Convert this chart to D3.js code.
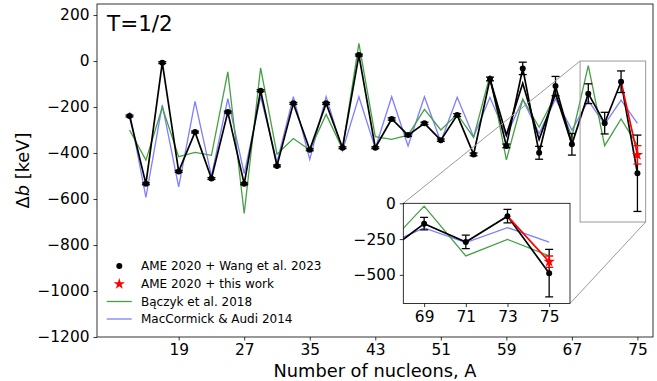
<!DOCTYPE html>
<html>
<head>
<meta charset="utf-8">
<script src="https://cdn.jsdelivr.net/npm/d3@7"></script>
<style>
  body { margin: 0; background: #fff; }
  text { font-family: "DejaVu Sans", sans-serif; fill: #000; }
</style>
</head>
<body>
<div id="chart"></div>
<script>
// mass numbers of the T=1/2 mirror pairs
const massA = [13, 15, 17, 19, 21, 23, 25, 27, 29, 31, 33, 35, 37, 39, 41, 43,
               45, 47, 49, 51, 53, 55, 57, 59, 61, 63, 65, 67, 69, 71, 73, 75];

// AME 2020 + Wang et al. 2023 (keV)
const wangVal = [-239, -534, -7, -480, -309, -511, -222, -534, -129, -456, -184, -386, -184, -377, 26, -377,
                 -252, -322, -271, -344, -235, -406, -78, -369, -32, -399, -109, -362, -142, -270, -90, -488];
const wangErr = [4, 4, 4, 4, 4, 4, 4, 4, 4, 4, 4, 4, 4, 4, 4, 4,
                 5, 5, 5, 5, 6, 6, 8, 8, 27, 28, 42, 47, 43, 47, 47, 166];

// second AME line drawn without markers in the A = 57..67 range
const ameA = [57, 59, 61, 63, 65, 67];
const ameVal = [-78, -322, -97, -341, -141, -362];

// AME 2020 + this work
const thisA = [73, 75];
const thisVal = [-90, -408];
const thisErr = 40;

// Bączyk et al. 2018
const baczykVal = [-300, -431, -202, -416, -397, -410, -47, -663, -30, -405, -337, -387, -232, -383, 77, -329,
                   -341, -322, -210, -300, -231, -332, -61, -430, -166, -288, -148, -329, -20, -368, -252, -367];

// MacCormick & Audi 2014
const macVal = [-221, -593, -191, -547, -175, -500, -164, -490, -155, -440, -155, -428, -155, -390, -155, -380,
                -155, -369, -155, -351, -158, -329, -158, -326, -167, -315, -165, -300, -172, -275, -170, -271];

const xTicks = [19, 27, 35, 43, 51, 59, 67, 75];
const yTicks = [200, 0, -200, -400, -600, -800, -1000, -1200];
const insetXTicks = [69, 71, 73, 75];
const insetYTicks = [0, -250, -500];

const legendLabels = ["AME 2020 + Wang et al. 2023", "AME 2020 + this work", "Bączyk et al. 2018", "MacCormick & Audi 2014"];

const width = 657, height = 381;
const green = "#46a046", blue = "#7f7fff", red = "#ff0000";
const minus = s => String(s).replace("-", "\u2212");

const svg = d3.select("#chart").append("svg")
  .attr("width", width).attr("height", height);

// main axes
const x = d3.scaleLinear().domain([9.03, 76.9]).range([97, 653]);
const y = d3.scaleLinear().domain([-1200, 248]).range([337, 4]);

// inset axes
const xi = d3.scaleLinear().domain([68, 76]).range([403.3, 570]);
const yi = d3.scaleLinear().domain([-700, 0]).range([303.5, 203.3]);

function drawSeries(g, sx, sy) {
  const line = d3.line().x(d => sx(d[0])).y(d => sy(d[1]));

  g.append("path").datum(d3.zip(massA, macVal))
    .attr("d", line).attr("fill", "none").attr("stroke", blue).attr("stroke-width", 1.3);
  g.append("path").datum(d3.zip(massA, baczykVal))
    .attr("d", line).attr("fill", "none").attr("stroke", green).attr("stroke-width", 1.3);
  g.append("path").datum(d3.zip(ameA, ameVal))
    .attr("d", line).attr("fill", "none").attr("stroke", "#000").attr("stroke-width", 1.7);
  g.append("path").datum(d3.zip(massA, wangVal))
    .attr("d", line).attr("fill", "none").attr("stroke", "#000").attr("stroke-width", 1.7);
  g.append("path").datum(d3.zip(thisA, thisVal))
    .attr("d", line).attr("fill", "none").attr("stroke", red).attr("stroke-width", 1.7);

  // error bars
  const eb = g.append("g").selectAll("g").data(d3.zip(massA, wangVal, wangErr)).enter().append("g");
  eb.append("line")
    .attr("x1", d => sx(d[0])).attr("x2", d => sx(d[0]))
    .attr("y1", d => sy(d[1] + d[2])).attr("y2", d => sy(d[1] - d[2]))
    .attr("stroke", "#000").attr("stroke-width", 1.3);
  [1, -1].forEach(s => {
    eb.append("line")
      .attr("x1", d => sx(d[0]) - 4).attr("x2", d => sx(d[0]) + 4)
      .attr("y1", d => sy(d[1] + s * d[2])).attr("y2", d => sy(d[1] + s * d[2]))
      .attr("stroke", "#000").attr("stroke-width", 1.3);
  });
  eb.append("circle")
    .attr("cx", d => sx(d[0])).attr("cy", d => sy(d[1])).attr("r", 3)
    .attr("fill", "#000");

  // this work point
  const ax = sx(thisA[1]), av = thisVal[1];
  g.append("line").attr("x1", ax).attr("x2", ax)
    .attr("y1", sy(av + thisErr)).attr("y2", sy(av - thisErr))
    .attr("stroke", red).attr("stroke-width", 1.3);
  [1, -1].forEach(s => {
    g.append("line").attr("x1", ax - 4).attr("x2", ax + 4)
      .attr("y1", sy(av + s * thisErr)).attr("y2", sy(av + s * thisErr))
      .attr("stroke", red).attr("stroke-width", 1.3);
  });
  g.append("path").attr("d", d3.symbol(d3.symbolStar, 40)())
    .attr("transform", `translate(${ax},${sy(av)})`).attr("fill", red);
}

// ---- main plot ----
svg.append("defs").append("clipPath").attr("id", "clipMain")
  .append("rect").attr("x", 97).attr("y", 4).attr("width", 556).attr("height", 333);

const main = svg.append("g").attr("clip-path", "url(#clipMain)");
drawSeries(main, x, y);

svg.append("g").attr("transform", "translate(0,337)")
  .call(d3.axisBottom(x).tickValues(xTicks).tickSize(3.5).tickPadding(4))
  .call(g => g.select(".domain").remove())
  .call(g => g.selectAll("text").style("font-size", "15.4px").attr("font-family", null))
  .call(g => g.selectAll("line").attr("stroke-width", 0.8));

svg.append("g").attr("transform", "translate(97,0)")
  .call(d3.axisLeft(y).tickValues(yTicks).tickSize(3.5).tickPadding(4).tickFormat(minus))
  .call(g => g.select(".domain").remove())
  .call(g => g.selectAll("text").style("font-size", "15.4px").attr("font-family", null))
  .call(g => g.selectAll("line").attr("stroke-width", 0.8));

svg.append("rect").attr("x", 97).attr("y", 4).attr("width", 556).attr("height", 333)
  .attr("fill", "none").attr("stroke", "#000").attr("stroke-width", 0.8);

// title
svg.append("text").attr("x", 107).attr("y", 31).style("font-size", "21.5px").text("T=1/2");

// axis labels
svg.append("text").attr("x", 375).attr("y", 377).attr("text-anchor", "middle")
  .style("font-size", "17.8px").text("Number of nucleons, A");

const yl = svg.append("text").attr("transform", "translate(29,170.5) rotate(-90)")
  .attr("text-anchor", "middle").style("font-size", "17.8px");
yl.append("tspan").text("\u0394");
yl.append("tspan").attr("font-style", "italic").text("b");
yl.append("tspan").text(" [keV]");

// legend
const legY = [266, 284, 301.5, 319];
const leg = svg.append("g");
leg.append("circle").attr("cx", 119.3).attr("cy", legY[0]).attr("r", 3).attr("fill", "#000");
leg.append("path").attr("d", d3.symbol(d3.symbolStar, 40)())
  .attr("transform", `translate(119.3,${legY[1]})`).attr("fill", red);
leg.append("line").attr("x1", 106.7).attr("x2", 131.7).attr("y1", legY[2]).attr("y2", legY[2])
  .attr("stroke", green).attr("stroke-width", 1.3);
leg.append("line").attr("x1", 106.7).attr("x2", 131.7).attr("y1", legY[3]).attr("y2", legY[3])
  .attr("stroke", blue).attr("stroke-width", 1.3);
leg.selectAll("text").data(legendLabels).enter().append("text")
  .attr("x", 141).attr("y", (d, i) => legY[i]).attr("dy", "0.36em")
  .style("font-size", "12px").text(d => d);

// ---- zoom marker ----
const zx0 = x(xi.domain()[0]), zx1 = x(xi.domain()[1]);
const zy0 = y(yi.domain()[1]), zy1 = y(yi.domain()[0]);
svg.append("rect").attr("x", zx0).attr("y", zy0).attr("width", zx1 - zx0).attr("height", zy1 - zy0)
  .attr("fill", "none").attr("stroke", "#9a9a9a").attr("stroke-width", 1);
svg.append("line").attr("x1", zx0).attr("y1", zy0).attr("x2", xi.range()[0]).attr("y2", yi.range()[1])
  .attr("stroke", "#9a9a9a").attr("stroke-width", 1);
svg.append("line").attr("x1", zx1).attr("y1", zy1).attr("x2", xi.range()[1]).attr("y2", yi.range()[0])
  .attr("stroke", "#9a9a9a").attr("stroke-width", 1);

// ---- inset ----
const iw = xi.range()[1] - xi.range()[0], ih = yi.range()[0] - yi.range()[1];
svg.append("rect").attr("x", xi.range()[0]).attr("y", yi.range()[1]).attr("width", iw).attr("height", ih)
  .attr("fill", "#fff");
svg.select("defs").append("clipPath").attr("id", "clipInset")
  .append("rect").attr("x", xi.range()[0]).attr("y", yi.range()[1]).attr("width", iw).attr("height", ih);

const inset = svg.append("g").attr("clip-path", "url(#clipInset)");
drawSeries(inset, xi, yi);

svg.append("g").attr("transform", `translate(0,${yi.range()[0]})`)
  .call(d3.axisBottom(xi).tickValues(insetXTicks).tickSize(3.5).tickPadding(4))
  .call(g => g.select(".domain").remove())
  .call(g => g.selectAll("text").style("font-size", "15.4px").attr("font-family", null))
  .call(g => g.selectAll("line").attr("stroke-width", 0.8));

svg.append("g").attr("transform", `translate(${xi.range()[0]},0)`)
  .call(d3.axisLeft(yi).tickValues(insetYTicks).tickSize(3.5).tickPadding(4).tickFormat(minus))
  .call(g => g.select(".domain").remove())
  .call(g => g.selectAll("text").style("font-size", "15.4px").attr("font-family", null))
  .call(g => g.selectAll("line").attr("stroke-width", 0.8));

svg.append("rect").attr("x", xi.range()[0]).attr("y", yi.range()[1]).attr("width", iw).attr("height", ih)
  .attr("fill", "none").attr("stroke", "#000").attr("stroke-width", 0.8);
</script>
</body>
</html>
